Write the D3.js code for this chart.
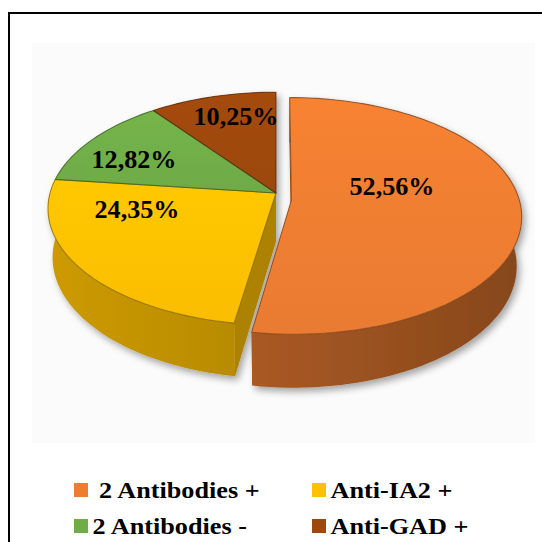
<!DOCTYPE html>
<html><head><meta charset="utf-8">
<script src="https://cdn.jsdelivr.net/npm/d3@7"></script>
<style>html,body{margin:0;padding:0;background:#fff;} svg{display:block;}</style>
</head><body>
<svg id="chart" width="542" height="542"></svg>
<script>
// ---- data ----
const categories = ["2 Antibodies +", "Anti-IA2 +", "2 Antibodies -", "Anti-GAD +"];
const values = [52.56, 24.35, 12.82, 10.25];
const valueLabels = ["52,56%", "24,35%", "12,82%", "10,25%"];
const legendText = [" 2 Antibodies +", "Anti-IA2 +", "2 Antibodies -", "Anti-GAD +"];

// ---- styles / layout ----
const colors = ["#ED7D31", "#FFC000", "#70AD47", "#9E480E"];
const explode = [[0.068, 0.06], [0, 0], [0, 0], [0, 0]];
const labelPos = [[392, 195], [137, 218], [134, 168], [236, 125]];
const legendCell = [[74, 483], [312, 483], [74, 519], [312, 519]];
const serif = "'Liberation Serif','Times New Roman',Times,'Nimbus Roman','FreeSerif','DejaVu Serif',serif";

const svg = d3.select("#chart");
const defs = svg.append("defs");

// frame
svg.append("rect").attr("x", 32).attr("y", 43).attr("width", 503).attr("height", 400).attr("fill", "#fbfbfb");
svg.append("rect").attr("x", 9).attr("y", 13).attr("width", 620).attr("height", 620)
  .attr("fill", "none").attr("stroke", "#000").attr("stroke-width", 2);

// projection of a tilted disk with perspective
const deg = Math.PI / 180;
const tilt = 30.4 * deg, S = Math.sin(tilt), C = Math.cos(tilt);
const D = 6.43, F = 1453, CX = 276, CY = 193, H = 0.255;
function proj(X, Z, Y) {
  const w = D - Z * C - Y * S;
  return [CX + F * X / w, CY + F * (Z * S - Y * C) / w];
}

const arcs = d3.pie().sort(null).value(d => d).startAngle(0).endAngle(2 * Math.PI)(values);
const line = d3.line();

const filt = defs.append("filter").attr("id", "sh").attr("x", "-10%").attr("y", "-10%").attr("width", "130%").attr("height", "140%");
filt.append("feDropShadow").attr("dx", 3).attr("dy", 4).attr("stdDeviation", 3.5)
  .attr("flood-color", "#000").attr("flood-opacity", 0.35);

colors.forEach((c, i) => {
  const base = d3.color(c);
  const gt = defs.append("linearGradient").attr("id", "top" + i).attr("x1", 0).attr("y1", 0).attr("x2", 0).attr("y2", 1);
  gt.append("stop").attr("offset", 0).attr("stop-color", base.brighter(0.12));
  gt.append("stop").attr("offset", 1).attr("stop-color", base.darker(0.05));
  const gs = defs.append("linearGradient").attr("id", "side" + i).attr("gradientUnits", "userSpaceOnUse")
    .attr("x1", 40).attr("y1", 0).attr("x2", 520).attr("y2", 0);
  gs.append("stop").attr("offset", 0).attr("stop-color", base.darker(0.6));
  gs.append("stop").attr("offset", 0.45).attr("stop-color", base.darker(0.95));
  gs.append("stop").attr("offset", 1).attr("stop-color", base.darker(1.6));
});

const pie = svg.append("g").attr("filter", "url(#sh)");

function rim(a, o, Y) { return proj(o[0] + Math.sin(a), o[1] - Math.cos(a), Y); }
function arcPts(a0, a1, o, Y) {
  const n = Math.max(4, Math.ceil((a1 - a0) / (2 * deg)));
  return d3.range(n + 1).map(k => rim(a0 + (a1 - a0) * k / n, o, Y));
}

// radial walls
const walls = [];
arcs.forEach((d, i) => {
  const o = explode[i];
  [d.startAngle, d.endAngle].forEach(a => {
    const pts = [proj(o[0], o[1], 0), rim(a, o, 0), rim(a, o, -H), proj(o[0], o[1], -H)];
    walls.push({ i, pts, z: o[1] - Math.cos(a) / 2 });
  });
});
walls.sort((a, b) => a.z - b.z);
pie.selectAll("path.wall").data(walls).join("path").attr("class", "wall")
  .attr("d", w => line(w.pts) + "Z")
  .attr("fill", w => d3.color(colors[w.i]).darker(1.1));

// outer walls
pie.selectAll("path.side").data(arcs).join("path").attr("class", "side")
  .attr("d", (d, i) => {
    const top = arcPts(d.startAngle, d.endAngle, explode[i], 0);
    const bot = arcPts(d.startAngle, d.endAngle, explode[i], -H).reverse();
    return line(top.concat(bot)) + "Z";
  })
  .attr("fill", (d, i) => `url(#side${i})`);

// top faces
pie.selectAll("path.top").data(arcs).join("path").attr("class", "top")
  .attr("d", (d, i) => {
    const o = explode[i];
    const pts = [proj(o[0], o[1], 0)].concat(arcPts(d.startAngle, d.endAngle, o, 0));
    return line(pts) + "Z";
  })
  .attr("fill", (d, i) => `url(#top${i})`)
  .attr("stroke", (d, i) => d3.color(colors[i]).darker(1.8))
  .attr("stroke-width", 1.1)
  .attr("stroke-opacity", 0.7)
  .attr("stroke-linejoin", "round");

// value labels (fit width of the reference rendering)
const vals = svg.selectAll("text.val").data(valueLabels).join("text").attr("class", "val")
  .attr("text-anchor", "middle")
  .style("font-family", serif)
  .attr("font-weight", "bold").attr("font-size", 26).attr("fill", "#000")
  .text(d => d);
const vw = vals.node().getComputedTextLength();
const vsx = vw > 0 ? 85 / vw : 0.84;
vals.attr("transform", (d, i) => `translate(${labelPos[i][0]},${labelPos[i][1]}) scale(${vsx},1)`);

// legend
const lg = svg.selectAll("g.leg").data(categories).join("g").attr("class", "leg")
  .attr("transform", (d, i) => `translate(${legendCell[i][0]},${legendCell[i][1]})`);
lg.append("rect").attr("width", 14).attr("height", 14).attr("fill", (d, i) => colors[i]);
const lt = lg.append("text")
  .style("font-family", serif)
  .attr("font-weight", "bold").attr("font-size", 24).attr("fill", "#000")
  .style("white-space", "pre")
  .text((d, i) => legendText[i]);
const lw = lt.nodes()[3].getComputedTextLength();
const lsx = lw > 0 ? 138 / lw : 1.19;
lt.attr("transform", `translate(18.5,14.5) scale(${lsx},1)`);
</script>
</body></html>
